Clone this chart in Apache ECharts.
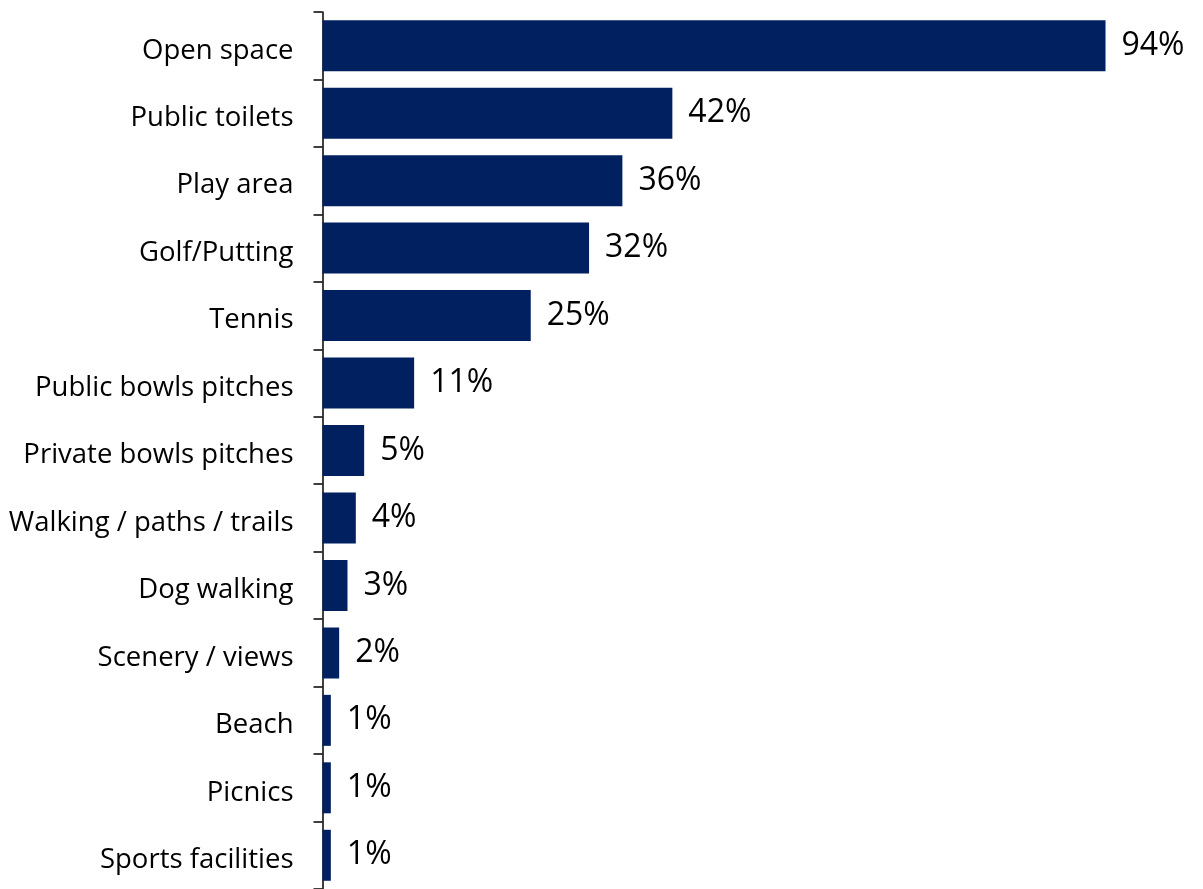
<!DOCTYPE html>
<html><head><meta charset="utf-8">
<script src="https://cdn.jsdelivr.net/npm/echarts@6/dist/echarts.min.js"></script>
<style>html,body{margin:0;padding:0;background:#fff}#c{width:1203px;height:889px}</style>
</head><body><div id="c"></div>
<script>
const categories = ["Open space","Public toilets","Play area","Golf/Putting","Tennis","Public bowls pitches","Private bowls pitches","Walking / paths / trails","Dog walking","Scenery / views","Beach","Picnics","Sports facilities"];
const values = [94,42,36,32,25,11,5,4,3,2,1,1,1];
const chart = echarts.init(document.getElementById('c'));
chart.setOption({
  animation:false,
  grid:{left:322.5,top:12,width:833,height:877,containLabel:false},
  xAxis:{type:'value',min:0,max:100,show:false},
  yAxis:{type:'category',inverse:true,data:categories,
    axisLine:{show:true,lineStyle:{color:'#000',width:1.5}},
    axisTick:{show:true,length:9,lineStyle:{color:'#000',width:1.5}},
    axisLabel:{margin:29,color:'#000',fontSize:27.5,fontFamily:'Open Sans',
      formatter:function(v){return '{a|'+v+'}';},
      rich:{a:{fontSize:27.5,fontFamily:'Open Sans',color:'#000',padding:[10,0,0,0]}}}},
  series:[{type:'bar',data:values,barWidth:51,itemStyle:{color:'#002060'},
    label:{show:true,position:'right',distance:16,formatter:'{c}%',color:'#000',fontSize:32,fontFamily:'Open Sans'}}]
});
</script></body></html>
